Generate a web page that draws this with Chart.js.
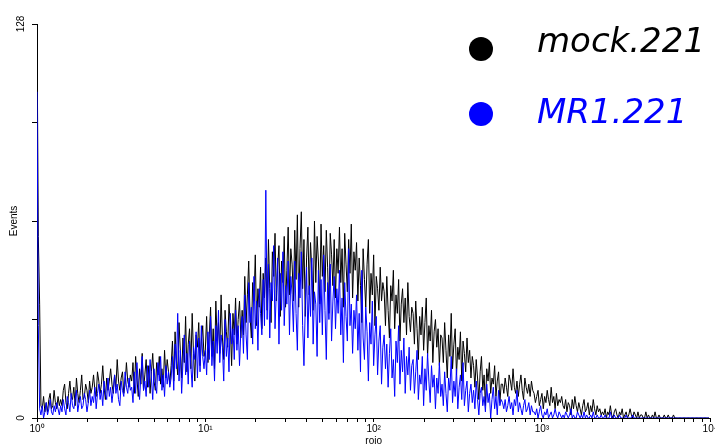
<!DOCTYPE html>
<html>
<head>
<title>Events histogram</title>
<style>
  html, body { margin: 0; padding: 0; background: #fff; overflow: hidden; }
  #wrap { position: relative; width: 715px; height: 447px; overflow: hidden; }
</style>
</head>
<body>
<div id="wrap"><canvas id="myChart" width="719" height="447"></canvas></div>
<script src="https://cdn.jsdelivr.net/npm/chart.js@4/dist/chart.umd.min.js"></script>
<script>
// one bin every 2 channels, 1024 channels over 4 decades
var mockCounts = [
  128, 59, 37, 4, 3, 7, 2, 5, 2, 6, 8, 3, 4, 9, 5, 3, 7, 4,
  6, 4, 9, 11, 5, 3, 8, 12, 7, 6, 10, 4, 13, 8, 5, 9, 14, 6, 7, 11, 9, 5, 12, 8,
  10, 14, 9, 7, 15, 12, 8, 11, 17, 10, 6, 13, 9, 12, 16, 11, 8, 14, 10, 19, 12, 9, 13, 15, 8, 11, 18, 12, 10, 14,
  12, 18, 8, 20, 13, 7, 16, 11, 21, 9, 14, 19, 10, 17, 8, 15, 21, 12, 9, 18, 14, 20, 11, 16, 10, 22, 13, 19, 15, 11,
  17, 25, 12, 28, 19, 14, 31, 22, 13, 26, 18, 33, 15, 24, 29, 16, 34, 21, 12, 27, 23, 31, 17, 25, 30, 20,
  22, 33, 18, 27, 36, 20, 29, 16, 38, 25, 31, 21, 40, 26, 19, 35, 28, 23, 37, 30, 17, 34, 27, 39, 24, 32, 38, 26,
  35, 27, 46, 31, 40, 51, 33, 26, 44, 38, 53, 30, 42, 36, 49, 29, 47, 39,
  52, 35, 58, 42, 31, 54, 46, 60, 38, 49, 56, 33, 51, 44, 59, 36, 48, 62, 40, 55,
  50, 38, 61, 45, 66, 36, 55, 67, 42, 58, 33, 52, 62, 40, 57, 48, 35, 64, 44, 59, 51, 37, 63, 46, 56, 41, 61, 49, 34, 60, 53, 43, 58, 39, 55, 47,
  62, 44, 55, 36, 60, 50, 41, 58, 47, 63, 39, 54,
  48, 57, 38, 52, 43, 31, 55, 45, 36, 50, 58, 34, 47, 40, 53, 30, 46, 42, 35, 49, 38, 44,
  41, 30, 46, 35, 26, 43, 38, 48, 29, 40, 34, 45, 25, 37, 42, 31, 39, 27, 44, 33, 28, 36,
  34, 24, 38, 29, 19, 33, 27, 36, 22, 31, 39, 20, 30, 25, 35, 18, 28, 32, 23, 29, 17, 27,
  26, 18, 31, 22, 13, 27, 20, 34, 16, 24, 29, 14, 23, 19, 28, 12, 25, 21, 15, 26, 18, 22, 13, 20,
  17, 10, 19, 13, 6, 15, 20, 9, 14, 4, 16, 12, 18, 8, 13, 11, 17, 7, 12, 15, 5, 11,
  11, 8, 13, 10, 7, 14, 12, 9, 16, 10, 8, 12, 7, 11, 14, 9, 6, 13, 10, 8, 11, 7, 12, 9,
  8, 5, 7, 9, 4, 6, 8, 3, 7, 5, 9, 6, 4, 10, 5, 7, 3, 8, 4, 6, 5, 7,
  4, 3, 6, 2, 5, 4, 1, 6, 3, 7, 4, 2, 5, 3, 1, 4, 6, 2, 3, 5, 1, 4, 2, 6, 3, 1, 4, 2, 3, 1,
  2, 1, 3, 0, 2, 1, 4, 1, 0, 2, 3, 1, 0, 2, 1, 3, 0, 1, 2, 0, 1, 3, 1, 0, 2, 1, 0, 2, 0, 1,
  1, 0, 0, 2, 0, 1, 0, 0, 1, 0, 2, 0, 0, 1, 0, 0, 0, 1, 0, 0, 1, 0, 0, 0, 1, 0, 0, 0, 0, 0,
  0, 0, 0, 0, 0, 0, 0, 0, 0, 0, 0, 0, 0, 0, 0, 0, 0, 0, 0, 0, 0, 0
];
var mr1Counts = [
  106, 30, 3, 1, 4, 0, 2, 5, 1, 3, 6, 2, 1, 4, 2, 5, 3, 1,
  4, 2, 6, 3, 1, 7, 5, 2, 8, 4, 3, 6, 9, 2, 5, 7, 3, 4, 8, 6, 2, 5, 9, 4,
  7, 5, 10, 3, 8, 11, 6, 9, 4, 12, 8, 6, 13, 7, 10, 5, 9, 14, 8, 11, 6, 4, 12, 9, 7, 15, 10, 8, 13, 9,
  10, 5, 15, 8, 18, 11, 6, 14, 20, 9, 12, 7, 17, 10, 19, 13, 6, 16, 11, 8, 18, 12, 20, 9, 14, 7, 17, 11, 15, 10,
  13, 20, 9, 24, 16, 34, 12, 22, 8, 18, 27, 14, 21, 11, 25, 17, 10, 23, 19, 28, 13, 26, 15, 30, 20, 16,
  22, 14, 28, 19, 33, 17, 25, 12, 30, 21, 35, 18, 27, 23, 12, 32, 20, 26, 15, 34, 24, 29, 19, 35, 22, 30, 17, 28,
  33, 21, 40, 27, 19, 44, 31, 36, 24, 46, 29, 38, 22, 42, 34, 27, 45, 30,
  74, 32, 50, 26, 44, 38, 56, 29, 41, 52, 24, 47, 35, 54, 30, 43, 37, 51, 27, 46,
  40, 28, 51, 34, 22, 47, 39, 54, 30, 17, 36, 49, 26, 43, 33, 52, 24, 41, 37, 20, 48, 31, 45, 27, 53, 35, 19, 44, 32, 50, 25, 38, 46, 29, 42, 34,
  48, 27, 39, 18, 44, 33, 25, 55, 30, 37, 21, 35,
  29, 40, 22, 34, 15, 48, 26, 19, 36, 28, 12, 31, 24, 38, 17, 27, 33, 14, 25, 30, 11, 23,
  27, 16, 24, 10, 21, 29, 13, 19, 7, 25, 18, 30, 11, 22, 15, 26, 8, 20, 14, 23, 9, 17,
  19, 8, 15, 22, 6, 14, 11, 20, 4, 16, 9, 21, 12, 5, 17, 10, 14, 3, 13, 8, 18, 7,
  11, 4, 15, 8, 2, 13, 9, 20, 5, 12, 7, 16, 3, 10, 14, 6, 18, 4, 9, 12, 2, 8, 11, 5,
  9, 3, 12, 6, 1, 8, 10, 4, 7, 2, 11, 5, 8, 0, 6, 10, 3, 7, 1, 9, 4, 6,
  5, 3, 6, 2, 4, 7, 3, 5, 1, 6, 4, 9, 2, 5, 3, 1, 4, 6, 2, 3, 5, 1, 4, 2,
  2, 1, 3, 0, 2, 4, 1, 0, 2, 1, 3, 0, 1, 2, 0, 1, 3, 1, 0, 2, 1, 0,
  1, 0, 2, 1, 0, 1, 3, 0, 1, 0, 0, 2, 1, 0, 1, 0, 2, 0, 1, 0, 0, 1, 0, 2, 0, 0, 1, 0, 0, 1,
  0, 0, 1, 0, 0, 0, 2, 0, 0, 1, 0, 0, 0, 1, 0, 0, 0, 0, 1, 0, 0, 0, 0, 1, 0, 0, 0, 0, 0, 0,
  0, 0, 0, 0, 0, 0, 0, 0, 0, 0, 0, 0, 0, 0, 0, 0, 0, 0, 0, 0, 0, 0, 0, 0, 0, 0, 0, 0, 0, 0,
  0, 0, 0, 0, 0, 0, 0, 0, 0, 0, 0, 0, 0, 0, 0, 0, 0, 0, 0, 0, 0, 0
];
var seriesNames = ['mock.221', 'MR1.221'];
var seriesColors = ['#000000', '#0000ff'];
var decades = [1, 10, 100, 1000, 10000];
var decadeLabels = ['10\u2070', '10\u00b9', '10\u00b2', '10\u00b3', '10\u2074'];
var yTicks = [0, 32, 64, 96, 128];
var yTickLabels = ['0', '', '', '', '128'];
var CH_STEP = 2, CH_PER_DECADE = 256;

function toPoints(counts) {
  return counts.map(function (c, i) {
    return { x: Math.pow(10, i * CH_STEP / CH_PER_DECADE), y: c };
  });
}

// legend drawn in the top right corner
var legendPlugin = {
  id: 'cornerLegend',
  afterDraw: function (chart) {
    var ctx = chart.ctx;
    var rows = [52, 123];
    var dots = [49, 114];
    ctx.save();
    for (var k = 0; k < seriesNames.length; k++) {
      ctx.fillStyle = seriesColors[k];
      ctx.beginPath();
      ctx.arc(481, dots[k], 12, 0, Math.PI * 2);
      ctx.fill();
      ctx.font = 'italic 34px "DejaVu Sans"';
      ctx.textBaseline = 'alphabetic';
      ctx.textAlign = 'left';
      ctx.fillText(seriesNames[k], 537, rows[k]);
    }
    ctx.restore();
  }
};

var axisFont = { family: '"Liberation Sans", Arial, sans-serif', size: 10 };

var ctx = document.getElementById('myChart').getContext('2d');
var chart = new Chart(ctx, {
  type: 'line',
  data: {
    datasets: [{
      label: seriesNames[0],
      data: toPoints(mockCounts),
      borderColor: seriesColors[0],
      borderWidth: 1,
      pointRadius: 0,
      tension: 0,
      fill: false,
      order: 2
    }, {
      label: seriesNames[1],
      data: toPoints(mr1Counts),
      borderColor: seriesColors[1],
      borderWidth: 1,
      pointRadius: 0,
      tension: 0,
      fill: false,
      order: 1
    }]
  },
  options: {
    responsive: false,
    animation: false,
    layout: { padding: { top: 24, left: 0, right: 0, bottom: 0 } },
    plugins: { legend: { display: false }, tooltip: { enabled: false } },
    scales: {
      x: {
        type: 'logarithmic',
        min: 1,
        max: 10000,
        afterBuildTicks: function (scale) {
          var t = [];
          decades.forEach(function (d) {
            for (var m = 1; m <= 9; m++) {
              if (d * m <= 10000) t.push({ value: d * m, major: m == 1 });
            }
          });
          scale.ticks = t;
        },
        afterFit: function (scale) { scale.height = 29; },
        grid: { drawOnChartArea: false, drawTicks: true, tickLength: 4, color: '#000' },
        border: { display: true, color: '#000', width: 1 },
        ticks: {
          autoSkip: false,
          maxRotation: 0,
          padding: 1,
          color: '#000',
          font: axisFont,
          callback: function (v) {
            var k = decades.indexOf(v);
            return k >= 0 ? decadeLabels[k] : '';
          }
        },
        title: { display: true, text: 'roio', color: '#000', font: { family: axisFont.family, size: 10 }, padding: { top: 0, bottom: 0 } }
      },
      y: {
        type: 'linear',
        min: 0,
        max: 128,
        afterBuildTicks: function (scale) {
          scale.ticks = yTicks.map(function (v) { return { value: v }; });
        },
        afterFit: function (scale) { scale.width = 37; },
        grid: { drawOnChartArea: false, drawTicks: true, tickLength: 5, color: '#000' },
        border: { display: true, color: '#000', width: 1 },
        ticks: {
          minRotation: 90,
          maxRotation: 90,
          crossAlign: 'center',
          padding: 2,
          color: '#000',
          font: axisFont,
          callback: function (v) {
            var k = yTicks.indexOf(v);
            return k >= 0 ? yTickLabels[k] : '';
          }
        },
        title: { display: true, text: 'Events', color: '#000', font: { family: axisFont.family, size: 10 }, padding: { top: 8, bottom: 0 } }
      }
    }
  },
  plugins: [legendPlugin]
});
</script>
</body>
</html>
